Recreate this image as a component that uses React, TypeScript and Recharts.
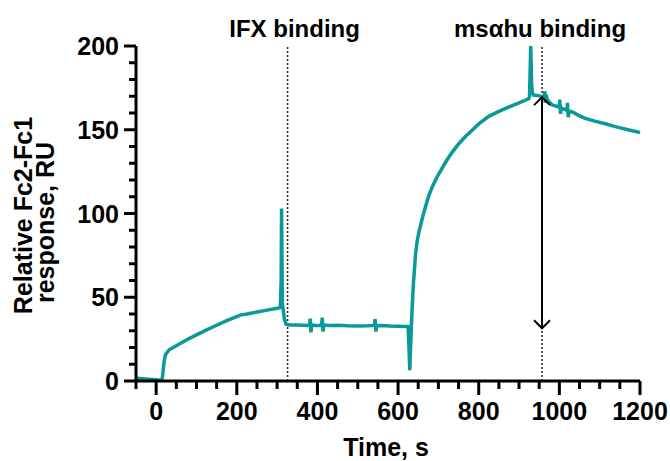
import { Label, Line, LineChart, ReferenceLine, XAxis, YAxis } from "recharts";

const timeS = [
  -50, -45, -40, -30, -20, -10, 0, 10, 14, 16, 18, 20, 23, 27, 33, 50, 75, 100, 125, 150, 175, 200, 210, 225, 250,
  275, 300, 308, 310, 311, 312, 313, 315, 318, 322, 330, 350, 375, 381, 382, 384, 386, 395, 410, 412, 414, 416, 430,
  450, 475, 500, 525, 541, 543, 545, 547, 560, 580, 600, 620, 625, 627, 629, 631, 633, 635, 638, 641, 643, 647, 652,
  656, 662, 668, 676, 685, 696, 709, 720, 734, 750, 767, 785, 800, 825, 850, 874, 900, 924, 926, 928, 929, 930, 931,
  933, 936, 945, 957, 962, 964, 965, 967, 970, 981, 1000, 1001, 1003, 1005, 1019, 1020, 1022, 1024, 1031, 1050, 1064,
  1090, 1114, 1130, 1146, 1170, 1192, 1200,
];

const responseRU = [
  1.8, 1.6, 1.4, 1.3, 1.1, 0.9, 0.7, 0.5, 0.6, 3, 8, 12, 15.5, 17, 18.8, 21, 24.5, 27.5, 30.5, 33.3, 36, 38.5, 39.5, 40,
  41.2, 42.3, 43.4, 43.8, 60, 103, 75, 46, 43, 37, 34, 33.5, 33.4, 33.2, 33.3, 37.2, 29, 33.5, 33.1, 33.3, 37.8, 29.5,
  33.4, 33.2, 33.3, 33, 32.9, 33, 33.2, 37, 29.5, 33, 33.1, 32.8, 32.7, 32.6, 32.5, 20, 6.5, 20, 33, 44, 58, 68, 75,
  83, 89.5, 93, 99, 104, 110.5, 116, 121.5, 127, 131.5, 136.5, 141.5, 146, 150, 153.5, 158, 161, 163.5, 166, 168.5,
  170, 190, 200, 190, 178, 172, 170.7, 170.5, 169.8, 170, 173, 166, 171, 168, 165, 163.5, 168, 159.5, 163, 161.5, 166,
  157.5, 161, 160.8, 158.3, 156.8, 155, 153.6, 152.5, 151.4, 150, 148.8, 148.3,
];

const xTicks = [
  -50, 0, 50, 100, 150, 200, 250, 300, 350, 400, 450, 500, 550, 600, 650, 700, 750, 800, 850, 900, 950, 1000, 1050,
  1100, 1150, 1200,
];
const xLabelTicks = [0, 200, 400, 600, 800, 1000, 1200];
const yTicks = [0, 10, 20, 30, 40, 50, 60, 70, 80, 90, 100, 110, 120, 130, 140, 150, 160, 170, 180, 190, 200];
const yLabelTicks = [0, 50, 100, 150, 200];

// injection markers and the measured response span
const ifxStart = 326;
const msStart = 957;
const msSpan = [31.5, 169.5];

const data = timeS.map((t, i) => ({ t, r: responseRU[i] }));

const font = '"Liberation Sans", Arial, sans-serif';
const teal = "#0a9898";

function XTick({ x, y, payload }: any) {
  const major = xLabelTicks.includes(payload.value);
  return (
    <g>
      <line x1={x} x2={x} y1={y} y2={y + (major ? 14 : 8)} stroke="#000" strokeWidth={3} />
      {major && (
        <text x={x} y={y + 39} textAnchor="middle" fontSize={25} fontWeight={700} fontFamily={font} fill="#000">
          {payload.value}
        </text>
      )}
    </g>
  );
}

function YTick({ x, y, payload }: any) {
  const major = yLabelTicks.includes(payload.value);
  return (
    <g>
      <line x1={x} x2={x - (major ? 12 : 7)} y1={y} y2={y} stroke="#000" strokeWidth={3} />
      {major && (
        <text x={x - 17} y={y + 9} textAnchor="end" fontSize={25} fontWeight={700} fontFamily={font} fill="#000">
          {payload.value}
        </text>
      )}
    </g>
  );
}

function YTitle({ viewBox }: any) {
  const cy = viewBox.y + viewBox.height / 2;
  return (
    <g fontSize={25} fontWeight={700} fontFamily={font} fill="#000">
      <text x={32} y={cy + 2} textAnchor="middle" transform={`rotate(-90, 32, ${cy + 2})`}>
        Relative Fc2-Fc1
      </text>
      <text x={54} y={cy + 9} textAnchor="middle" transform={`rotate(-90, 54, ${cy + 9})`}>
        response, RU
      </text>
    </g>
  );
}

function SpanArrow({ x1, y1, x2, y2 }: any) {
  const top = Math.min(y1, y2);
  const bottom = Math.max(y1, y2);
  return (
    <g stroke="#000" strokeWidth={2} fill="none">
      <line x1={x1} x2={x2} y1={bottom} y2={top} />
      <path d={`M${x1 - 8},${top + 8} L${x1},${top} L${x1 + 8},${top + 8}`} />
      <path d={`M${x1 - 8},${bottom - 8} L${x1},${bottom} L${x1 + 8},${bottom - 8}`} />
    </g>
  );
}

const topLabel = { fontSize: 24, fontWeight: 700, fontFamily: font, fill: "#000" };

export default function App() {
  return (
    <div style={{ width: 670, height: 461 }}>
      <style>{"body{margin:0}"}</style>
      <LineChart width={670} height={461} data={data} margin={{ top: 46, right: 30, bottom: 4, left: 0 }}>
        <XAxis
          dataKey="t"
          type="number"
          domain={[-50, 1200]}
          ticks={xTicks}
          interval={0}
          tickSize={0}
          tickMargin={0}
          tick={<XTick />}
          height={76}
          axisLine={{ stroke: "#000", strokeWidth: 3 }}
          tickLine={false}
        >
          <Label value="Time, s" position="insideBottom" offset={1} dx={-2} {...topLabel} fontSize={25} />
        </XAxis>
        <YAxis
          type="number"
          domain={[0, 200]}
          allowDataOverflow
          ticks={yTicks}
          interval={0}
          tickSize={0}
          tickMargin={0}
          tick={<YTick />}
          width={136}
          axisLine={{ stroke: "#000", strokeWidth: 3 }}
          tickLine={false}
          label={<YTitle />}
        />
        <ReferenceLine
          x={ifxStart}
          stroke="#222"
          strokeWidth={1.5}
          strokeDasharray="2 2"
          label={{ value: "IFX binding", position: "top", offset: 9, dx: 7, ...topLabel }}
        />
        <ReferenceLine
          x={msStart}
          stroke="#222"
          strokeWidth={1.5}
          strokeDasharray="2 2"
          label={{ value: "msαhu binding", position: "top", offset: 9, dx: -2, ...topLabel }}
        />
        <Line
          type="linear"
          dataKey="r"
          stroke={teal}
          strokeWidth={3.5}
          dot={false}
          activeDot={false}
          isAnimationActive={false}
        />
        <ReferenceLine
          segment={[
            { x: msStart, y: msSpan[0] },
            { x: msStart, y: msSpan[1] },
          ]}
          shape={(p: any) => <SpanArrow {...p} />}
        />
      </LineChart>
    </div>
  );
}
